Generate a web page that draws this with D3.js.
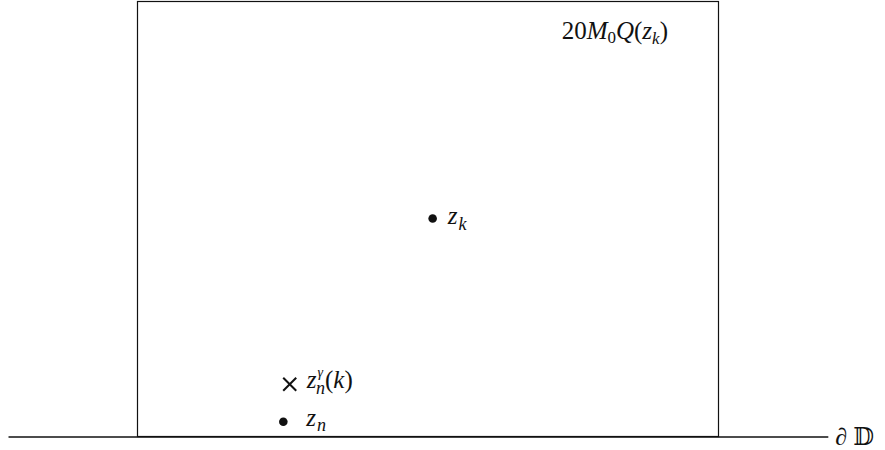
<!DOCTYPE html>
<html>
<head>
<meta charset="utf-8">
<script src="https://cdn.jsdelivr.net/npm/d3@7"></script>
<style>
  body { margin: 0; background: #fff; }
  text { font-family: "Liberation Serif", "DejaVu Serif", serif; fill: #111; }
</style>
</head>
<body>
<div id="chart"></div>
<script>
// box spans 0..100 in both directions
const boxExtent = [0, 100];
const boundaryExtent = [-22.2, 118.9];
const dots = [
  { name: "zk", x: 50.8, y: 50.1 },
  { name: "zn", x: 25.1, y: 3.4 }
];
const crosses = [{ name: "zng", x: 26.2, y: 12.0 }];

const width = 885, height = 450;
const svg = d3.select("#chart").append("svg")
  .attr("width", width)
  .attr("height", height);

const x = d3.scaleLinear().domain(boxExtent).range([137.5, 718.5]);
const y = d3.scaleLinear().domain(boxExtent).range([436.5, 1.5]);

// boundary line
svg.append("line")
  .attr("x1", x(boundaryExtent[0]))
  .attr("x2", x(boundaryExtent[1]))
  .attr("y1", y(0) + 0.5)
  .attr("y2", y(0) + 0.5)
  .attr("stroke", "#111")
  .attr("stroke-width", 1.6);

// the box
svg.append("rect")
  .attr("x", x(0))
  .attr("y", y(100))
  .attr("width", x(100) - x(0))
  .attr("height", y(0) - y(100))
  .attr("fill", "none")
  .attr("stroke", "#111")
  .attr("stroke-width", 1.2);

svg.selectAll("circle.pt")
  .data(dots)
  .enter()
  .append("circle")
  .attr("class", "pt")
  .attr("cx", d => x(d.x))
  .attr("cy", d => y(d.y))
  .attr("r", 4.3)
  .attr("fill", "#111");

const cs = 6.5;
crosses.forEach(d => {
  const g = svg.append("g").attr("transform", `translate(${x(d.x)},${y(d.y)})`);
  g.append("line").attr("x1", -cs).attr("y1", -cs).attr("x2", cs).attr("y2", cs)
    .attr("stroke", "#111").attr("stroke-width", 2);
  g.append("line").attr("x1", -cs).attr("y1", cs).attr("x2", cs).attr("y2", -cs)
    .attr("stroke", "#111").attr("stroke-width", 2);
});

// labels
const kLabel = svg.append("text")
  .attr("x", x(50.8) + 15)
  .attr("y", y(50.1) + 5)
  .attr("font-size", "25px")
  .attr("font-style", "italic");
kLabel.append("tspan").text("z");
kLabel.append("tspan").attr("font-size", "18px").attr("dx", 1).attr("dy", 6).text("k");

const nLabel = svg.append("text")
  .attr("x", x(25.1) + 23)
  .attr("y", y(3.4) + 4)
  .attr("font-size", "25px")
  .attr("font-style", "italic");
nLabel.append("tspan").text("z");
nLabel.append("tspan").attr("font-size", "18px").attr("dx", 1).attr("dy", 5).text("n");

const gLabel = svg.append("text")
  .attr("x", x(26.2) + 17)
  .attr("y", y(12.0) + 4)
  .attr("font-size", "25px")
  .attr("font-style", "italic");
gLabel.append("tspan").text("z");
gLabel.append("tspan").attr("font-size", "14px").attr("dx", 1).attr("dy", -11).text("γ");
gLabel.append("tspan").attr("font-size", "18px").attr("dx", -7).attr("dy", 17).text("n");
gLabel.append("tspan").attr("font-style", "normal").attr("dy", -6).text("(");
gLabel.append("tspan").text("k");
gLabel.append("tspan").attr("font-style", "normal").text(")");

const qLabel = svg.append("text")
  .attr("x", x(73))
  .attr("y", y(91.4))
  .attr("font-size", "25px");
qLabel.append("tspan").text("20");
qLabel.append("tspan").attr("font-style", "italic").text("M");
qLabel.append("tspan").attr("font-size", "17px").attr("dy", 4).text("0");
qLabel.append("tspan").attr("font-style", "italic").attr("dy", -4).text("Q");
qLabel.append("tspan").text("(");
qLabel.append("tspan").attr("font-style", "italic").text("z");
qLabel.append("tspan").attr("font-style", "italic").attr("font-size", "17px").attr("dy", 5).text("k");
qLabel.append("tspan").attr("dy", -5).text(")");

svg.append("text")
  .attr("x", x(boundaryExtent[1]) + 7)
  .attr("y", y(0) + 8)
  .attr("font-size", "24px")
  .text("∂ 𝔻");
</script>
</body>
</html>
